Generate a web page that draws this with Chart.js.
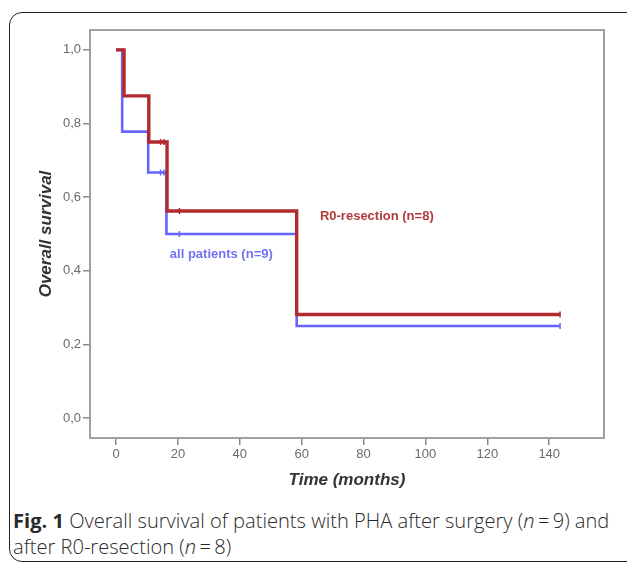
<!DOCTYPE html>
<html>
<head>
<meta charset="utf-8">
<script src="https://cdn.jsdelivr.net/npm/chart.js@4/dist/chart.umd.min.js"></script>
<style>
  html, body { margin: 0; padding: 0; background: #fff; }
  body { width: 627px; height: 563px; position: relative; overflow: hidden; }
  #frame { position: absolute; left: 9px; top: 12px; width: 630px; height: 550px; border: 1.5px solid #222; border-radius: 13px; box-sizing: border-box; }
  #wrap { position: absolute; left: 0; top: 0; width: 627px; height: 500px; }
  #caption { position: absolute; left: 13px; top: 508px; width: 614px; font-family: "Open Sans", sans-serif; font-weight: 300; font-size: 20.1px; line-height: 26px; color: #2a2a2a; white-space: nowrap; }
  #caption b { font-weight: 700; }
</style>
</head>
<body>
<div id="frame"></div>
<div id="wrap"><canvas id="c" width="627" height="500"></canvas></div>
<div id="caption"><b>Fig. 1</b> Overall survival of patients with PHA after surgery (<i>n</i>&#8201;=&#8201;9) and<br>after R0-resection (<i>n</i>&#8201;=&#8201;8)</div>
<script>
// ---- data ----
const allTimes = [0, 2.0, 10.4, 16.3, 58.4, 143.5];
const allSurv  = [1.0, 0.778, 0.667, 0.5, 0.25, 0.25];
const allCensorTimes = [14.4, 15.5, 20.5, 143.5];
const allCensorSurv  = [0.667, 0.667, 0.5, 0.25];

const r0Times = [0, 2.6, 10.6, 16.5, 58.4, 143.5];
const r0Surv  = [1.0, 0.875, 0.75, 0.5625, 0.28125, 0.28125];
const r0CensorTimes = [14.4, 15.5, 20.5, 143.5];
const r0CensorSurv  = [0.75, 0.75, 0.5625, 0.28125];

const xTicks = [0, 20, 40, 60, 80, 100, 120, 140];
const yTicks = [0, 0.2, 0.4, 0.6, 0.8, 1.0];

const seriesLabels = ["R0-resection (n=8)", "all patients (n=9)"];
const labelAnchorX = [65.9, 17.4];
const labelAnchorY = [0.548, 0.4435];

// ---- build ----
const pts = (xs, ys) => xs.map((x, i) => ({ x: x, y: ys[i] }));
const RED = '#b02a2e', BLUE = '#6464ff';

const boxPlugin = {
  id: 'box',
  afterDraw(chart) {
    const { ctx, chartArea: a } = chart;
    ctx.save();
    ctx.strokeStyle = '#a0a0a0';
    ctx.lineWidth = 2;
    ctx.strokeRect(a.left, a.top, a.right - a.left, a.bottom - a.top);
    ctx.restore();
  }
};
const labelPlugin = {
  id: 'seriesText',
  afterDatasetsDraw(chart) {
    const { ctx, scales } = chart;
    const colors = ['#b23a3a', '#7272f2'];
    ctx.save();
    ctx.font = 'bold 13px "Liberation Sans", Arial, sans-serif';
    ctx.textAlign = 'left';
    ctx.textBaseline = 'middle';
    seriesLabels.forEach((t, i) => {
      ctx.fillStyle = colors[i];
      ctx.fillText(t, scales.x.getPixelForValue(labelAnchorX[i]), scales.y.getPixelForValue(labelAnchorY[i]));
    });
    ctx.restore();
  }
};

const tickFont = { family: '"Liberation Sans", Arial, sans-serif', size: 13 };
const titleFont = { family: '"Liberation Sans", Arial, sans-serif', size: 17, weight: 'bold', style: 'italic' };

new Chart(document.getElementById('c'), {
  type: 'line',
  data: {
    datasets: [
      { data: pts(r0Times, r0Surv), stepped: true, borderColor: RED, borderWidth: 3.4, pointRadius: 0, fill: false },
      { data: pts(r0CensorTimes, r0CensorSurv), showLine: false, pointStyle: 'line', rotation: 90, pointRadius: 3, borderColor: RED, pointBorderWidth: 1.5, backgroundColor: RED },
      { data: pts(allTimes, allSurv), stepped: true, borderColor: BLUE, borderWidth: 2.6, pointRadius: 0, fill: false },
      { data: pts(allCensorTimes, allCensorSurv), showLine: false, pointStyle: 'line', rotation: 90, pointRadius: 3, borderColor: BLUE, pointBorderWidth: 1.5, backgroundColor: BLUE }
    ]
  },
  options: {
    responsive: false,
    animation: false,
    events: [],
    layout: { padding: { left: 30, top: 30, right: 23, bottom: 0 } },
    plugins: { legend: { display: false }, tooltip: { enabled: false } },
    scales: {
      x: {
        type: 'linear',
        min: -8.4, max: 157.7,
        afterBuildTicks: (s) => { s.ticks = xTicks.map(v => ({ value: v })); },
        afterFit: (s) => { s.height = 62; },
        grid: { display: true, drawOnChartArea: false, drawTicks: true, tickLength: 7, color: '#8a8a8a', lineWidth: 1.5 },
        border: { display: false },
        ticks: { color: '#6a6a6a', font: tickFont, padding: 2, maxRotation: 0, autoSkip: false, callback: (v) => String(v) },
        title: { display: true, text: 'Time (months)', color: '#333', font: titleFont, padding: { top: 0, bottom: 9 } }
      },
      y: {
        type: 'linear',
        min: -0.054, max: 1.054,
        afterBuildTicks: (s) => { s.ticks = yTicks.map(v => ({ value: v })); },
        afterFit: (s) => { s.width = 60; },
        grid: { display: true, drawOnChartArea: false, drawTicks: true, tickLength: 7, color: '#8a8a8a', lineWidth: 1.5 },
        border: { display: false },
        ticks: { color: '#6a6a6a', font: tickFont, padding: 2, autoSkip: false, callback: (v) => Number(v).toFixed(1).replace('.', ',') },
        title: { display: true, text: 'Overall survival', color: '#333', font: titleFont, padding: { top: 6, bottom: 0 } }
      }
    }
  },
  plugins: [boxPlugin, labelPlugin]
});
</script>
</body>
</html>
